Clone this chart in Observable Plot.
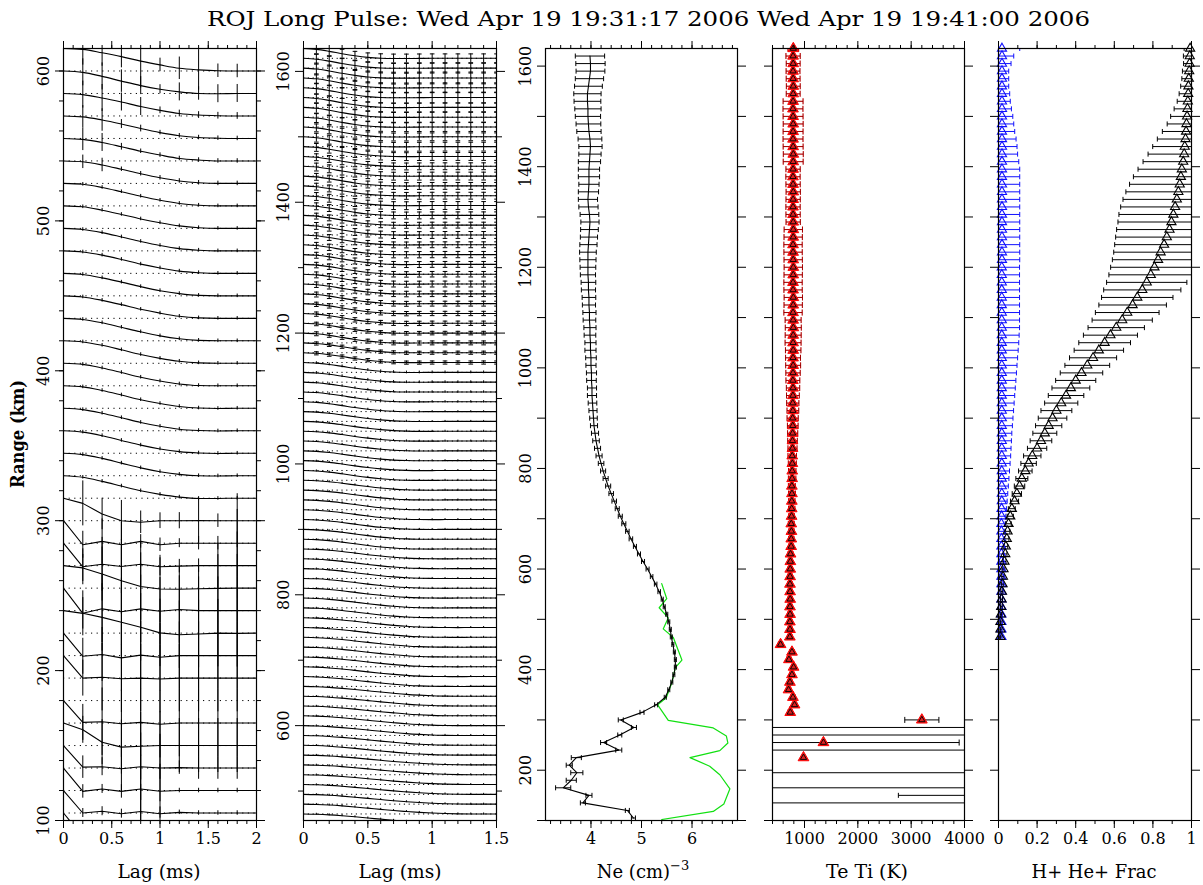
<!DOCTYPE html>
<html>
<head>
<meta charset="utf-8">
<script src="https://cdn.jsdelivr.net/npm/d3@7"></script>
<script src="https://cdn.jsdelivr.net/npm/@observablehq/plot@0.6"></script>
<style>
html,body{margin:0;padding:0;background:#fff;}
#page{position:relative;width:1203px;height:885px;overflow:hidden;background:#fff;font-family:"DejaVu Serif",serif;}
</style>
</head>
<body>
<div id="page"></div>
<script>
// ---------------- DATA ----------------
const TITLE = "ROJ Long Pulse: Wed Apr 19 19:31:17 2006 Wed Apr 19 19:41:00 2006";
const gates = [90,105,120,135,150,165,180,195,210,225,240,255,270,285,300,315,330,345,360,375,390,405,420,435,450,465,480,495,510,525,540,555,570,585,600,615,630,645,660,675,690,705,720,735,750,765,780,795,810,825,840,855,870,885,900,915,930,945,960,975,990,1005,1020,1035,1050,1065,1080,1095,1110,1125,1140,1155,1170,1185,1200,1215,1230,1245,1260,1275,1290,1305,1320,1335,1350,1365,1380,1395,1410,1425,1440,1455,1470,1485,1500,1515,1530,1545,1560,1575,1590,1605,1620,1635];

// Panel 1: lag profiles (normalized ACF, %), baselines 90..600 km
const p1Lags = [0,0.2,0.4,0.6,0.8,1.0,1.2,1.4,1.6,1.8,2.0];
const p1Base = gates.filter(g => g <= 600);
const p1Acf = [
  [100,-5,5,-5,5,0,0,0,0,0,0],        // 90
  [100,0,8,-3,7,-3,3,0,0,0,0],        // 105
  [100,-4,7,-4,7,-3,0,0,0,0,0],       // 120
  [100,4,6,-3,6,0,2,0,0,0,0],         // 135
  [100,70,15,-7,-3,0,0,0,0,0,0],      // 150
  [100,3,6,-3,3,-5,0,0,0,0,0],        // 165
  null,                               // 180
  [100,0,4,-3,0,-4,0,0,0,0,0],        // 195
  [100,-3,5,-10,2,-7,0,0,0,0,0],      // 210
  [100,88,70,48,26,1,-7,-4,0,-1,0],   // 225
  [100,-12,8,-5,8,-3,5,0,0,0,0],      // 240
  [100,90,63,33,7,-4,-5,-3,-1,0,0],   // 255
  [100,-5,6,-4,6,-5,-2,0,0,0,0],      // 270
  [100,-7,8,-7,8,-7,0,0,0,0,0],       // 285
  [100,77,30,0,-7,0,0,1,0,0,0],       // 300
  [100,93,75,54,33,17,5,-1,-1,0,0],   // 315
  [100,94,77,56,35,18,6,0,-1,0,0],    // 330
  [100,94,78,57,36,19,7,1,-1,0,0],    // 345
  [100,94,78,58,37,20,7,1,-1,0,0],    // 360
  [100,95,79,59,38,21,8,1,-1,0,0],    // 375
  [100,95,79,59,38,21,8,1,0,0,0],     // 390
  [100,95,80,60,39,22,9,2,0,0,0],     // 405
  [100,95,80,60,40,22,9,2,0,0,0],     // 420
  [100,95,80,61,40,23,9,2,0,0,0],     // 435
  [100,95,80,61,41,23,10,2,0,0,0],    // 450
  [100,95,81,62,41,24,10,3,0,0,0],    // 465
  [100,95,81,62,42,24,10,3,0,0,0],    // 480
  [100,96,81,62,42,25,11,3,0,0,0],    // 495
  [100,96,82,63,43,25,11,3,0,0,0],    // 510
  [100,96,82,63,43,25,11,3,0,0,0],    // 525
  [100,96,82,63,43,26,11,4,0,0,0],    // 540
  [100,96,82,64,44,26,12,4,1,0,0],    // 555
  [100,95,80,62,42,25,11,4,1,0,0],    // 570
  [100,94,76,55,35,19,7,0,-1,0,0],    // 585
  [100,96,81,64,44,27,12,5,1,0,0]     // 600
];
const p1ErrSmall = [0,0.08,0.08,0.08,0.08,0.08,0.08,0.08,0.08,0.08,0];
const p1Err = [
  [0,0,0,0,0,0,0,0,0,0,0],
  [0,0.2,0.2,0.2,1.2,0.3,0.1,0.1,0.1,0.1,0],
  [0,0.3,0.2,0.3,1.5,1.2,0.1,0.1,0.1,0.1,0],
  [0,0.5,0.4,1.0,1.5,1.5,0.3,0.5,0.5,0.5,0],
  [0,0.6,1.0,1.2,1.5,1.5,1.2,1.2,1.2,1.2,0],
  [0,0.8,1.5,1.5,1.5,1.5,1.5,1.5,1.5,1.5,0],
  null,
  [0,0.8,1.5,1.5,1.5,1.5,1.5,1.5,1.5,1.5,0],
  [0,0.8,1.2,1.5,1.5,1.5,1.5,1.5,1.5,1.5,0],
  [0,0.7,1.5,1.5,1.5,1.5,1.5,1.5,1.5,1.5,0],
  [0,1.0,1.5,1.5,1.5,1.5,1.5,1.5,1.5,1.5,0],
  [0,0.6,1.2,1.5,1.5,1.5,1.0,1.0,1.5,1.5,0],
  [0,0.8,1.2,1.2,1.0,0.4,0.3,0.3,1.0,1.5,0],
  [0,0.6,1.0,1.0,0.3,0.3,0.2,0.3,0.3,1.5,0],
  [0,1.0,0.7,0.9,0.5,0.35,0.36,1.0,0.3,1.2,0],
  p1ErrSmall,p1ErrSmall,p1ErrSmall,p1ErrSmall,p1ErrSmall,p1ErrSmall,p1ErrSmall,p1ErrSmall,
  p1ErrSmall,p1ErrSmall,p1ErrSmall,p1ErrSmall,p1ErrSmall,p1ErrSmall,
  [0,0.3,0.3,0.1,0.1,0.1,0.1,0.1,0.1,0.1,0],   // 525
  [0,0.5,0.4,0.15,0.1,0.1,0.1,0.1,0.1,0.1,0],  // 540
  [0,0.5,0.5,0.2,0.15,0.1,0.1,0.1,0.1,0.1,0],  // 555
  [0,0.6,0.6,0.4,0.4,0.15,0.15,0.15,0.15,0.15,0], // 570
  [0,0.6,0.6,0.5,0.4,0.2,0.4,0.3,0.4,0.4,0],   // 585
  [0,0.7,0.6,0.5,1.2,0.3,0.5,0.9,0.3,0.3,0]    // 600
];

// Panel 2: lag profiles, baselines 450..1620 km
const p2Lags = [0,0.1,0.2,0.3,0.4,0.5,0.6,0.7,0.8,0.9,1.0,1.1,1.2,1.3,1.4,1.5];
const p2Base = gates.filter(g => g >= 450 && g <= 1620);
const p2Shapes = [
  [100,97,91,82,71,59,47,35,25,16,9,4,1,0,0,0],
  [100,97,90,80,68,55,42,30,19,11,5,1,0,0,0,0],
  [100,96,88,77,63,48,34,22,12,5,1,0,-1,0,0,0],
  [100,96,87,74,58,42,28,16,7,2,0,-1,0,0,0,0],
  [100,95,85,70,53,36,21,10,3,0,-1,0,0,0,0,0],
  [100,95,83,66,47,30,16,6,1,-1,-1,0,0,0,0,0],
  [100,94,80,61,41,24,11,3,-1,-1,0,0,0,0,0,0],
  [100,93,77,56,35,18,7,0,-2,-1,0,0,0,0,0,0],
  [100,92,74,51,30,14,4,-1,-2,-1,0,0,0,0,0,0],
  [100,91,71,47,26,10,1,-2,-2,-1,0,0,0,0,0,0]
];
const p2ShapeIdx = [
  0,0,0,0,0,0,0, 1,1,1,1,1,1,1, 2,2,2,2,2,2,2, 3,3,3,3,3,3,3, 4,4,4,4,4,4,4,
  5,5,5,5,5,5,5, 6,6,6,6,6,6,6, 7,7,7,7,7,7,7,7,7, 8,8,8,8,8,8,8,8,8,8,8,
  9,9,9,9,9,9,9,9,9,9
];
const p2Err = [
  0.1,0.1,0.1,0.1,0.1,0.1,0.1,0.1,0.1,0.1,0.1,0.1,0.1,0.1,0.1,0.1,0.1,0.1,0.1,0.1,
  0.1,0.1,0.1,0.1,0.1,0.1,0.1,0.1,0.1,0.1,0.1,0.1,0.1,0.1,0.1,0.1,0.1,0.1,0.1,0.1,0.1,
  0.1,0.1,0.12,0.12,0.14,0.14,
  0.16,0.16,0.2,0.18,0.22,0.22,
  0.25,0.28,0.3,0.28,0.3,0.32,
  0.3,0.35,0.3,0.35,0.4,0.35,
  0.35,0.4,0.35,0.4,0.45,0.4,
  0.45,0.5,0.45,0.55,0.5,0.6,0.5,0.45
];

// Panel 3: log10 Ne, ranges 105..1620
const neRange = gates.filter(g => g >= 105 && g <= 1620);
const neVal = [
  4.84,4.72,3.84,3.96,3.45,3.61,3.72,3.57,3.71,4.55,4.25,4.57,4.85,4.59,5.01,5.29,
  5.47,5.54,5.60,5.64,5.67,5.67,5.65,5.62,5.59,5.57,
  5.54,5.50,5.45,5.41,5.35,5.28,5.20,5.12,5.03,4.95,
  4.87,4.79,4.72,4.65,4.58,4.52,4.46,4.40,4.34,4.29,
  4.24,4.20,4.16,4.13,4.10,4.08,4.06,4.05,4.04,4.03,
  4.02,4.02,4.01,4.01,4.00,4.00,3.99,3.99,3.98,3.98,
  3.97,3.97,3.96,3.96,3.95,3.95,3.94,3.94,3.94,3.94,
  3.95,3.96,3.97,3.98,3.97,3.95,3.94,3.95,3.96,3.96,
  3.96,3.97,3.98,3.99,3.98,3.96,3.95,3.94,3.94,3.93,
  3.93,3.95,3.97,3.99,3.99,3.98
];
const neErr = [
  0.04,0.04,0.05,0.06,0.15,0.1,0.12,0.06,0.1,0.06,0.06,0.04,0.05,0.05,0.04,0.03,
  0.02,0.02,0.02,0.02,0.02,0.02,0.02,0.02,0.02,0.02,
  0.02,0.02,0.02,0.02,0.025,0.025,0.025,0.03,0.03,0.03,
  0.03,0.035,0.035,0.04,0.04,0.04,0.045,0.045,0.05,0.05,
  0.05,0.055,0.06,0.06,0.065,0.07,0.07,0.075,0.08,0.085,
  0.09,0.09,0.095,0.1,0.1,0.105,0.11,0.11,0.115,0.12,
  0.125,0.13,0.13,0.135,0.14,0.145,0.15,0.155,0.16,0.165,
  0.17,0.17,0.175,0.18,0.185,0.19,0.19,0.2,0.2,0.21,
  0.21,0.22,0.22,0.23,0.235,0.24,0.245,0.25,0.26,0.265,
  0.27,0.275,0.28,0.285,0.29,0.29
];
const greenRange = [571,541,523,503,481,464,419,404,374,344,330,299,284,268,254,239,225,208,191,163,133,118,102];
const greenNe = [5.40,5.50,5.35,5.53,5.43,5.63,5.80,5.67,5.60,5.49,5.32,5.53,6.42,6.68,6.71,6.55,5.96,6.35,6.55,6.75,6.63,6.42,5.40];

// Panel 4: Te / Ti (K)
const teRange = [225,255,300,315,330,345,360,375,390,405,420,435,450].concat(gates.filter(g => g >= 465));
const teVal = [981,1355,3200,733,813,783,701,727,765,795,708,765,551,
  725,728,726,730,728,732,730,728,730,733,
  735,738,750,752,755,752,758,760,762,765,
  763,768,770,772,770,775,775,778,780,778,
  782,780,783,785,782,785,787,785,788,786,
  788,790,787,785,788,790,786,785,788,790,
  788,786,785,788,790,788,786,785,787,789,
  786,784,786,788,790,787,785,786,788,786,
  784,786,788,790,787,785,788,786,790];
const teErr = [0,2545,320,40,40,40,40,40,40,40,40,40,40,
  40,40,40,40,40,40,40,40,40,40,
  40,45,45,50,50,55,55,60,60,65,
  65,70,70,75,80,85,90,95,100,105,
  110,115,120,125,130,135,140,140,145,150,
  150,150,150,172,172,172,172,172,172,172,
  172,172,172,172,172,134,134,134,134,134,
  134,134,134,187,187,187,187,187,187,187,
  187,187,130,130,130,130,130,134,100];
const teBlackOnly = [255,300];
const teWideRange = [135,150,165,195,240,270,285];
const teWideLo = [400,2760,400,400,400,400,400];
const teWideHi = [4000,4000,4000,4000,4000,4000,4000];

// Panel 5: H+ and He+ fractions, ranges 465..1635
const fracRange = gates.filter(g => g >= 465);
const hVal = [
  0.009,0.01,0.01,0.012,0.014,0.016,0.018,0.021,0.023,0.026,
  0.031,0.035,0.038,0.043,0.047,0.052,0.061,0.069,0.083,0.095,
  0.109,0.121,0.139,0.156,0.175,0.20,0.22,0.24,0.26,0.28,
  0.30,0.325,0.35,0.375,0.40,0.43,0.46,0.49,0.52,0.55,
  0.58,0.61,0.641,0.667,0.695,0.719,0.745,0.768,0.789,0.808,
  0.827,0.84,0.858,0.872,0.886,0.896,0.906,0.915,0.924,0.932,
  0.939,0.945,0.95,0.957,0.962,0.965,0.969,0.972,0.974,0.977,
  0.979,0.981,0.983,0.984,0.986,0.988,0.99,0.991,0.993];
const hErr = [
  0.003,0.003,0.003,0.004,0.004,0.005,0.005,0.006,0.006,0.007,
  0.008,0.009,0.01,0.011,0.012,0.014,0.016,0.018,0.021,0.024,
  0.027,0.031,0.035,0.04,0.045,0.05,0.056,0.062,0.068,0.074,
  0.08,0.086,0.092,0.098,0.104,0.11,0.116,0.122,0.128,0.134,
  0.14,0.146,0.156,0.165,0.175,0.185,0.2,0.208,0.217,0.227,
  0.237,0.243,0.256,0.265,0.274,0.277,0.282,0.282,0.279,0.272,
  0.26,0.246,0.227,0.208,0.187,0.166,0.146,0.123,0.1,0.085,
  0.069,0.055,0.047,0.04,0.036,0.035,0.031,0.033,0.031];
const heVal = [
  0.015,0.015,0.015,0.015,0.015,0.015,0.015,0.015,0.015,0.015,
  0.015,0.015,0.015,0.015,0.015,0.015,0.016,0.016,0.017,0.017,
  0.017,0.017,0.017,0.017,0.017,0.017,0.017,0.017,0.017,0.017,
  0.017,0.017,0.017,0.017,0.017,0.017,0.017,0.017,0.017,0.017,
  0.017,0.017,0.017,0.017,0.017,0.017,0.017,0.017,0.017,0.017,
  0.018,0.018,0.018,0.018,0.018,0.018,0.018,0.018,0.018,0.018,
  0.018,0.018,0.018,0.018,0.018,0.018,0.018,0.018,0.018,0.018,
  0.018,0.018,0.018,0.018,0.018,0.018,0.018,0.018,0.018];
const heErr = [
  0.004,0.004,0.005,0.005,0.006,0.006,0.007,0.008,0.009,0.01,
  0.011,0.012,0.014,0.016,0.018,0.02,0.022,0.025,0.028,0.031,
  0.034,0.037,0.04,0.043,0.046,0.048,0.05,0.052,0.055,0.058,
  0.061,0.064,0.067,0.07,0.073,0.076,0.079,0.082,0.085,0.088,
  0.09,0.092,0.092,0.092,0.092,0.092,0.092,0.092,0.092,0.092,
  0.092,0.092,0.092,0.092,0.092,0.092,0.092,0.092,0.092,0.092,
  0.092,0.092,0.092,0.087,0.081,0.078,0.073,0.066,0.061,0.056,
  0.049,0.043,0.04,0.035,0.035,0.035,0.047,0.061,0.092];

// tick values / labels
const p1XMajor = [0,0.5,1,1.5,2];
const p2XMajor = [0,0.5,1,1.5];
const p3XMajor = [4,5,6];
const p3XMinor = [3.2,3.4,3.6,3.8,4,4.2,4.4,4.6,4.8,5,5.2,5.4,5.6,5.8,6,6.2,6.4,6.6,6.8];
const p4XMajor = [1000,2000,3000,4000];
const p4XMinor = [400,600,800,1000,1200,1400,1600,1800,2000,2200,2400,2600,2800,3000,3200,3400,3600,3800,4000];
const p5XMajor = [0,0.2,0.4,0.6,0.8,1];
const p1YLabels = [100,200,300,400,500,600];
const p2YLabels = [600,800,1000,1200,1400,1600];
const p3YLabels = [200,400,600,800,1000,1200,1400,1600];
const hundreds = [100,200,300,400,500,600,700,800,900,1000,1100,1200,1300,1400,1500,1600];

// ---------------- RENDER ----------------
const page = document.getElementById("page");
const FT = 48, FH = 772, ML = 52, MR = 14, MT = 14, MB = 40;
const ST = {background: "transparent", overflow: "visible", fontFamily: "'DejaVu Serif', serif", fontSize: "16px", color: "black"};

function frameAxes(o) {
  const m = [];
  m.push(Plot.axisX({anchor: "bottom", ticks: o.xMinor, tickSize: 4, fill: "none", label: null}));
  m.push(Plot.axisX({anchor: "bottom", ticks: o.xMajor, tickSize: 8, tickPadding: 4, tickFormat: d => String(d), label: null}));
  m.push(Plot.axisX({anchor: "top", ticks: o.xMinor, tickSize: 4, fill: "none", label: null}));
  m.push(Plot.axisX({anchor: "top", ticks: o.xMajor, tickSize: 8, fill: "none", label: null}));
  if (o.yMinor) {
    m.push(Plot.axisY({anchor: "left", ticks: o.yMinor, tickSize: o.yMinorSize, fill: "none", label: null}));
    m.push(Plot.axisY({anchor: "right", ticks: o.yMinor, tickSize: o.yMinorSize, fill: "none", label: null}));
  }
  m.push(Plot.axisY({anchor: "left", ticks: o.yMajor, tickSize: 8, fill: "none", label: null}));
  m.push(Plot.axisY({anchor: "right", ticks: o.yMajor, tickSize: 8, fill: "none", label: null}));
  if (o.yLabels) m.push(Plot.axisY({anchor: "left", ticks: o.yLabels, tickSize: 0, tickRotate: -90, tickPadding: 15, tickFormat: d => String(d), label: null}));
  m.push(Plot.frame({stroke: "black", strokeWidth: 1.2}));
  return m;
}

function mount(fl, fw, xdom, ydom, marks) {
  const p = Plot.plot({
    width: ML + fw + MR, height: MT + FH + MB,
    marginLeft: ML, marginRight: MR, marginTop: MT, marginBottom: MB,
    x: {domain: xdom}, y: {domain: ydom},
    style: ST,
    marks
  });
  p.style.position = "absolute";
  p.style.left = (fl - ML) + "px";
  p.style.top = (FT - MT) + "px";
  page.appendChild(p);
}

// Panel 1
const p1Rows = [];
p1Base.forEach((b, i) => {
  const a = p1Acf[i]; if (!a) return;
  a.forEach((v, j) => p1Rows.push({b, lag: p1Lags[j], y: b + 15 * v / 100, e: 15 * p1Err[i][j], smooth: b >= 315}));
});
mount(63, 193, [0, 2], [100, 615], [
  Plot.ruleY(p1Base, {y: d => d, stroke: "black", strokeWidth: 1, strokeDasharray: "1.2,4.4", clip: true}),
  Plot.ruleX(p1Rows.filter(d => d.e > 0), {x: "lag", y1: d => d.y - d.e, y2: d => d.y + d.e, stroke: "black", strokeWidth: 1, clip: true}),
  Plot.line(p1Rows.filter(d => d.smooth), {x: "lag", y: "y", z: "b", curve: "monotone-x", stroke: "black", strokeWidth: 1.1, clip: true}),
  Plot.line(p1Rows.filter(d => !d.smooth), {x: "lag", y: "y", z: "b", curve: "linear", stroke: "black", strokeWidth: 1.1, clip: true}),
  ...frameAxes({xMajor: p1XMajor, xMinor: d3.range(0, 2.001, 0.1), yMajor: p1YLabels, yMinor: d3.range(100, 601, 20), yMinorSize: 4, yLabels: p1YLabels})
]);

// Panel 2
const p2Rows = [];
p2Base.forEach((b, i) => {
  const a = p2Shapes[p2ShapeIdx[i]];
  a.forEach((v, j) => p2Rows.push({b, lag: p2Lags[j], y: b + 15 * v / 100, e: j === 0 ? 0 : 15 * p2Err[i], ea: p2Err[i]}));
});
const p2Bars = p2Rows.filter(d => d.e > 0);
const p2Caps = p2Bars.filter(d => d.ea >= 0.16);
mount(303, 193, [0, 1.5], [455, 1635], [
  Plot.ruleY(p2Base, {y: d => d, stroke: "black", strokeWidth: 1, strokeDasharray: "1.2,3.6", clip: true}),
  Plot.ruleX(p2Bars, {x: "lag", y1: d => d.y - d.e, y2: d => d.y + d.e, stroke: "black", strokeWidth: 1, clip: true}),
  Plot.link(p2Caps, {x1: d => d.lag - 0.018, x2: d => d.lag + 0.018, y1: d => d.y + d.e, y2: d => d.y + d.e, stroke: "black", strokeWidth: 1, clip: true}),
  Plot.link(p2Caps, {x1: d => d.lag - 0.018, x2: d => d.lag + 0.018, y1: d => d.y - d.e, y2: d => d.y - d.e, stroke: "black", strokeWidth: 1, clip: true}),
  Plot.line(p2Rows, {x: "lag", y: "y", z: "b", curve: "monotone-x", stroke: "black", strokeWidth: 1.1, clip: true}),
  ...frameAxes({xMajor: p2XMajor, xMinor: d3.range(0, 1.501, 0.1), yMajor: p2YLabels, yMinor: [500,700,900,1100,1300,1500], yMinorSize: 5, yLabels: p2YLabels})
]);

// Panel 3
const neRows = neRange.map((r, i) => ({r, v: neVal[i], e: neErr[i]}));
const greenRows = greenRange.map((r, i) => ({r, v: greenNe[i]}));
mount(545, 192, [3.1, 6.9], [100, 1635], [
  Plot.line(greenRows, {x: "v", y: "r", stroke: "#11e011", strokeWidth: 1.2, clip: true}),
  Plot.link(neRows, {x1: d => d.v - d.e, x2: d => d.v + d.e, y1: "r", y2: "r", stroke: "black", strokeWidth: 1, clip: true}),
  Plot.link(neRows, {x1: d => d.v - d.e, x2: d => d.v - d.e, y1: d => d.r - 5, y2: d => d.r + 5, stroke: "black", strokeWidth: 1, clip: true}),
  Plot.link(neRows, {x1: d => d.v + d.e, x2: d => d.v + d.e, y1: d => d.r - 5, y2: d => d.r + 5, stroke: "black", strokeWidth: 1, clip: true}),
  Plot.line(neRows, {x: "v", y: "r", stroke: "black", strokeWidth: 1.1, clip: true}),
  ...frameAxes({xMajor: p3XMajor, xMinor: p3XMinor, yMajor: hundreds, yLabels: p3YLabels})
]);

// Panel 4
const teRows = teRange.map((r, i) => ({r, v: teVal[i], e: teErr[i], black: teBlackOnly.includes(r)}));
const teWide = teWideRange.map((r, i) => ({r, lo: teWideLo[i], hi: teWideHi[i]}));
const teRed = teRows.filter(d => d.e > 0 && !d.black);
const teBlk = teRows.filter(d => d.e > 0 && d.black);
const capMarks = (rows, color, op, dk) => [
  Plot.link(rows, {x1: d => d.v - d.e, x2: d => d.v + d.e, y1: "r", y2: "r", stroke: color, strokeOpacity: op, strokeWidth: 1, clip: true}),
  Plot.link(rows, {x1: d => d.v - d.e, x2: d => d.v - d.e, y1: d => d.r - dk, y2: d => d.r + dk, stroke: color, strokeOpacity: op, strokeWidth: 1, clip: true}),
  Plot.link(rows, {x1: d => d.v + d.e, x2: d => d.v + d.e, y1: d => d.r - dk, y2: d => d.r + dk, stroke: color, strokeOpacity: op, strokeWidth: 1, clip: true})
];
mount(772, 192, [400, 4000], [100, 1635], [
  Plot.link(teWide, {x1: "lo", x2: "hi", y1: "r", y2: "r", stroke: "black", strokeWidth: 1, clip: true}),
  Plot.link(teWide.filter(d => d.lo > 400), {x1: "lo", x2: "lo", y1: d => d.r - 5, y2: d => d.r + 5, stroke: "black", strokeWidth: 1, clip: true}),
  ...capMarks(teRed, "#ff0000", 1, 6),
  ...capMarks(teRed, "black", 0.35, 6),
  ...capMarks(teBlk, "black", 1, 6),
  Plot.dot(teRows, {x: "v", y: "r", symbol: "triangle", r: 4, fill: "#dd2222", stroke: "#ff0000", strokeWidth: 1}),
  Plot.dot(teRows, {x: "v", y: "r", symbol: "triangle", r: 2.3, fill: "none", stroke: "black", strokeWidth: 0.9}),
  ...frameAxes({xMajor: p4XMajor, xMinor: p4XMinor, yMajor: hundreds})
]);

// Panel 5
const hRows = fracRange.map((r, i) => ({r, v: hVal[i], e: hErr[i]}));
const heRows = fracRange.map((r, i) => ({r, v: heVal[i], e: heErr[i]}));
mount(998, 193, [0, 1], [100, 1635], [
  ...capMarks(heRows, "#1010ff", 1, 5),
  ...capMarks(hRows, "black", 1, 5),
  Plot.dot(heRows, {x: "v", y: "r", symbol: "triangle", r: 3.4, fill: "none", stroke: "#1010ff", strokeWidth: 1.1}),
  Plot.dot(hRows, {x: "v", y: "r", symbol: "triangle", r: 3.4, fill: "none", stroke: "black", strokeWidth: 1.1}),
  ...frameAxes({xMajor: p5XMajor, xMinor: d3.range(0, 1.001, 0.1), yMajor: hundreds})
]);

// Titles and axis names
page.insertAdjacentHTML("beforeend",
`<svg width="1203" height="885" style="position:absolute;left:0;top:0;pointer-events:none" font-family="DejaVu Serif, serif" fill="black">
<text x="207" y="26" font-size="21" textLength="883" lengthAdjust="spacingAndGlyphs">${TITLE}</text>
<text x="159" y="878" font-size="18" text-anchor="middle" textLength="83" lengthAdjust="spacingAndGlyphs">Lag (ms)</text>
<text x="400" y="878" font-size="18" text-anchor="middle" textLength="83" lengthAdjust="spacingAndGlyphs">Lag (ms)</text>
<text x="643" y="878" font-size="18" text-anchor="middle">Ne (cm)<tspan dy="-8" font-size="13">−3</tspan></text>
<text x="867" y="878" font-size="18" text-anchor="middle" textLength="82" lengthAdjust="spacingAndGlyphs">Te Ti (K)</text>
<text x="1094" y="878" font-size="18" text-anchor="middle" textLength="125" lengthAdjust="spacingAndGlyphs">H+ He+ Frac</text>
<text transform="translate(24,434) rotate(-90)" font-size="18" font-weight="bold" text-anchor="middle" textLength="108" lengthAdjust="spacingAndGlyphs">Range (km)</text>
</svg>`);
</script>
</body>
</html>
